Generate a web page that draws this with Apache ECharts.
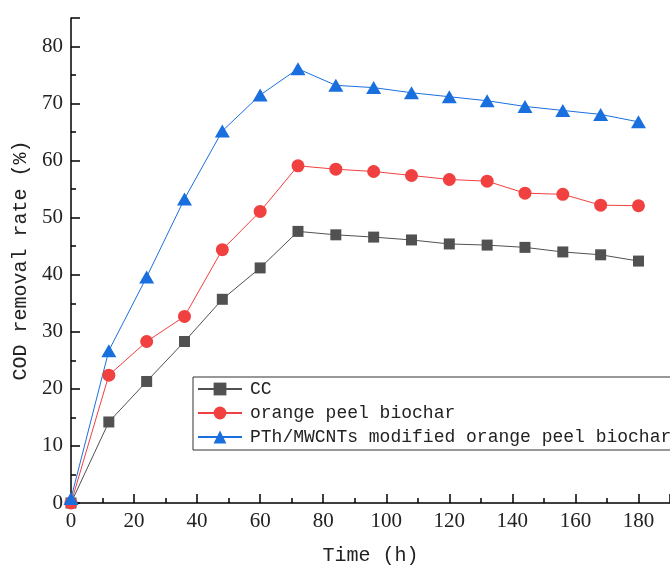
<!DOCTYPE html>
<html>
<head>
<meta charset="utf-8">
<script src="https://cdn.jsdelivr.net/npm/echarts@6/dist/echarts.min.js"></script>
<style>
  html, body { margin: 0; padding: 0; background: #fff; }
  #chart { width: 670px; height: 565px; }
</style>
</head>
<body>
<div id="chart"></div>
<script>
// 1. Data
const times = [0, 12, 24, 36, 48, 60, 72, 84, 96, 108, 120, 132, 144, 156, 168, 180];
const ccRate = [0, 14.2, 21.3, 28.3, 35.7, 41.2, 47.6, 47.0, 46.6, 46.1, 45.4, 45.2, 44.8, 44.0, 43.5, 42.4];
const peelRate = [0, 22.4, 28.3, 32.7, 44.4, 51.1, 59.1, 58.5, 58.1, 57.4, 56.7, 56.4, 54.3, 54.1, 52.2, 52.1];
const modifiedRate = [0.8, 26.7, 39.6, 53.3, 65.2, 71.5, 76.1, 73.2, 72.8, 71.9, 71.2, 70.5, 69.5, 68.8, 68.1, 66.8];
const seriesNames = ['CC', 'orange peel biochar', 'PTh/MWCNTs modified orange peel biochar'];

const pair = (ys) => times.map((t, i) => [t, ys[i]]);

const monoFont = 'Liberation Mono';
const tickFont = 'Liberation Serif';

// shared axis look: black line, ticks pointing inward
function axisStyle() {
    return {
        axisLine: { show: true, lineStyle: { color: '#000', width: 1.5 } },
        axisTick: { show: true, inside: true, length: 9, lineStyle: { color: '#000', width: 1.5 } },
        minorTick: { show: true, splitNumber: 2, length: 5, lineStyle: { color: '#000', width: 1.5 } },
        splitLine: { show: false },
        axisLabel: { fontFamily: tickFont, fontSize: 21, color: '#222', margin: 8, showMaxLabel: false },
        nameTextStyle: { fontFamily: monoFont, fontSize: 20, color: '#222' }
    };
}

function lineSeries(name, ys, color, symbol, size) {
    return {
        name: name,
        type: 'line',
        data: pair(ys),
        symbol: symbol,
        symbolSize: size,
        showSymbol: true,
        itemStyle: { color: color },
        lineStyle: { color: color, width: 1 },
        animation: false
    };
}

// 2. Chart
const chart = echarts.init(document.getElementById('chart'));
chart.setOption({
    animation: false,
    // keep the plot box fixed; the reference crops its right edge
    grid: { left: 71, top: 18, right: 0, bottom: 62, outerBoundsMode: 'none' },
    xAxis: Object.assign(axisStyle(), {
        type: 'value',
        min: 0,
        max: 190,
        interval: 20,
        name: 'Time (h)',
        nameLocation: 'middle',
        nameGap: 43
    }),
    yAxis: Object.assign(axisStyle(), {
        type: 'value',
        min: 0,
        max: 85,
        interval: 10,
        name: 'COD removal rate (%)',
        nameLocation: 'middle',
        nameGap: 40
    }),
    legend: {
        orient: 'vertical',
        left: 193,
        top: 377,
        itemWidth: 44,
        itemHeight: 16,
        itemGap: 6,
        padding: [3, 40, 4, 4],
        borderColor: '#333',
        borderWidth: 1,
        textStyle: { fontFamily: monoFont, fontSize: 18, lineHeight: 18, color: '#222', padding: [0, 0, 0, 3] },
        data: seriesNames
    },
    series: [
        lineSeries(seriesNames[0], ccRate, '#515151', 'rect', 11),
        lineSeries(seriesNames[1], peelRate, '#F14040', 'circle', 13),
        lineSeries(seriesNames[2], modifiedRate, '#1A6FDF', 'triangle', [15, 13])
    ]
});
</script>
</body>
</html>
